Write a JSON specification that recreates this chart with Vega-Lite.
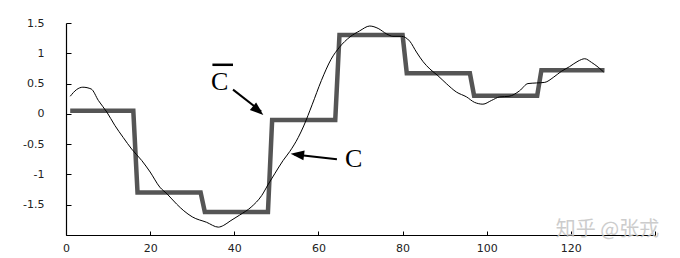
{
  "$schema": "https://vega.github.io/schema/vega-lite/v6.json",
  "autosize": "none",
  "width": 589,
  "height": 212,
  "padding": {"left": 66, "top": 23, "right": 25, "bottom": 23},
  "background": "white",
  "config": {"view": {"stroke": null}},
  "datasets": {
    "approx": [
      {"x": 1, "y": 0.05}, {"x": 16, "y": 0.05}, {"x": 17, "y": -1.3},
      {"x": 32, "y": -1.3}, {"x": 33, "y": -1.62}, {"x": 48, "y": -1.62},
      {"x": 49, "y": -0.1}, {"x": 64, "y": -0.1}, {"x": 65, "y": 1.3},
      {"x": 80, "y": 1.3}, {"x": 81, "y": 0.67}, {"x": 96, "y": 0.67},
      {"x": 97, "y": 0.3}, {"x": 112, "y": 0.3}, {"x": 113, "y": 0.72},
      {"x": 128, "y": 0.72}
    ],
    "curve": [
      {"x": 1, "y": 0.29}, {"x": 2.5, "y": 0.4}, {"x": 4, "y": 0.44},
      {"x": 6, "y": 0.41}, {"x": 7.7, "y": 0.22}, {"x": 9.7, "y": 0.03},
      {"x": 11.6, "y": -0.19}, {"x": 13.6, "y": -0.39}, {"x": 15.6, "y": -0.58},
      {"x": 18, "y": -0.77}, {"x": 20, "y": -0.96}, {"x": 22.3, "y": -1.21},
      {"x": 24, "y": -1.32}, {"x": 26.3, "y": -1.49}, {"x": 28, "y": -1.6},
      {"x": 30, "y": -1.7}, {"x": 33.4, "y": -1.79}, {"x": 36.2, "y": -1.87},
      {"x": 37.5, "y": -1.84}, {"x": 39, "y": -1.77}, {"x": 41.3, "y": -1.67},
      {"x": 44, "y": -1.54}, {"x": 46.5, "y": -1.35}, {"x": 48.1, "y": -1.16},
      {"x": 49.6, "y": -0.99}, {"x": 51.6, "y": -0.77}, {"x": 53.2, "y": -0.62},
      {"x": 55.2, "y": -0.39}, {"x": 56.5, "y": -0.2}, {"x": 58.5, "y": 0.15},
      {"x": 60.7, "y": 0.55}, {"x": 63, "y": 0.9}, {"x": 65, "y": 1.1},
      {"x": 67.5, "y": 1.27}, {"x": 69.8, "y": 1.37}, {"x": 72.2, "y": 1.45},
      {"x": 74.2, "y": 1.41}, {"x": 76.2, "y": 1.32}, {"x": 77.7, "y": 1.28},
      {"x": 79.7, "y": 1.28}, {"x": 81.7, "y": 1.2}, {"x": 83.3, "y": 1.02},
      {"x": 84.9, "y": 0.86}, {"x": 86.5, "y": 0.74}, {"x": 88.4, "y": 0.63},
      {"x": 90.4, "y": 0.5}, {"x": 92.8, "y": 0.36}, {"x": 95.2, "y": 0.28},
      {"x": 97.1, "y": 0.19}, {"x": 99.1, "y": 0.16}, {"x": 101.1, "y": 0.22},
      {"x": 103.1, "y": 0.28}, {"x": 105.3, "y": 0.29}, {"x": 107.8, "y": 0.38},
      {"x": 109.8, "y": 0.5}, {"x": 111.8, "y": 0.51}, {"x": 113.8, "y": 0.52},
      {"x": 115.8, "y": 0.6}, {"x": 117.7, "y": 0.7}, {"x": 119.7, "y": 0.78},
      {"x": 121.7, "y": 0.87}, {"x": 123.3, "y": 0.91}, {"x": 124.9, "y": 0.85},
      {"x": 126.5, "y": 0.77}, {"x": 127.8, "y": 0.69}
    ],
    "arrows": [
      {"x1": 39.7, "y1": 0.4, "x2": 46.4, "y2": 0.04},
      {"x1": 64.4, "y1": -0.75, "x2": 54.3, "y2": -0.67}
    ],
    "heads": [
      {"x": 46.9, "y": -0.017, "angle": 130},
      {"x": 53.4, "y": -0.66, "angle": 277}
    ],
    "labels": [
      {"x": 36.5, "y": 0.53, "text": "C"},
      {"x": 68.4, "y": -0.75, "text": "C"}
    ],
    "overline": [
      {"x1": 34.8, "x2": 39.7, "y": 0.81}
    ],
    "mark": [
      {"x": 128.7, "y": -1.91, "text": "知乎 @张戎"}
    ]
  },
  "layer": [
    {
      "data": {"name": "approx"},
      "mark": {"type": "line", "color": "#555555", "strokeWidth": 4.5, "strokeJoin": "miter", "clip": false},
      "encoding": {
        "x": {
          "field": "x", "type": "quantitative",
          "scale": {"domain": [0, 140], "nice": false, "zero": false},
          "axis": {
            "title": null, "grid": false, "values": [0, 20, 40, 60, 80, 100, 120, 140],
            "tickCount": 20,
            "labelExpr": "datum.value == 140 ? '' : toString(datum.value)",
            "labelOverlap": false, "labelFlush": false,
            "domainColor": "#000000", "domainWidth": 1.2,
            "tickColor": "#000000", "tickSize": -4, "tickWidth": 1,
            "labelPadding": 11, "labelFont": "DejaVu Sans", "labelFontSize": 11,
            "labelColor": "#222222"
          }
        },
        "y": {
          "field": "y", "type": "quantitative",
          "scale": {"domain": [-2, 1.5], "nice": false, "zero": false},
          "axis": {
            "title": null, "grid": false, "values": [-2, -1.5, -1, -0.5, 0, 0.5, 1, 1.5],
            "tickCount": 20,
            "labelExpr": "datum.value == -2 ? '' : toString(datum.value)",
            "labelOverlap": false, "labelFlush": false,
            "domainColor": "#000000", "domainWidth": 1.2,
            "tickColor": "#000000", "tickSize": -5, "tickWidth": 1,
            "labelPadding": 27, "labelFont": "DejaVu Sans", "labelFontSize": 11,
            "labelColor": "#222222"
          }
        }
      }
    },
    {
      "data": {"name": "curve"},
      "mark": {"type": "line", "color": "#000000", "strokeWidth": 1, "interpolate": "monotone"},
      "encoding": {
        "x": {"field": "x", "type": "quantitative"},
        "y": {"field": "y", "type": "quantitative"}
      }
    },
    {
      "data": {"name": "arrows"},
      "mark": {"type": "rule", "color": "#000000", "strokeWidth": 2},
      "encoding": {
        "x": {"field": "x1", "type": "quantitative"},
        "y": {"field": "y1", "type": "quantitative"},
        "x2": {"field": "x2"},
        "y2": {"field": "y2"}
      }
    },
    {
      "data": {"name": "heads"},
      "mark": {"type": "point", "filled": true, "color": "#000000", "opacity": 1, "size": 150, "shape": "M0,0L-0.8,2.2L0.8,2.2Z"},
      "encoding": {
        "x": {"field": "x", "type": "quantitative"},
        "y": {"field": "y", "type": "quantitative"},
        "angle": {"field": "angle", "type": "quantitative", "scale": null}
      }
    },
    {
      "data": {"name": "labels"},
      "mark": {"type": "text", "font": "Liberation Serif", "fontSize": 26, "color": "#000000", "align": "center", "baseline": "middle"},
      "encoding": {
        "x": {"field": "x", "type": "quantitative"},
        "y": {"field": "y", "type": "quantitative"},
        "text": {"field": "text"}
      }
    },
    {
      "data": {"name": "overline"},
      "mark": {"type": "rule", "color": "#000000", "strokeWidth": 2.5},
      "encoding": {
        "x": {"field": "x1", "type": "quantitative"},
        "x2": {"field": "x2"},
        "y": {"field": "y", "type": "quantitative"}
      }
    },
    {
      "data": {"name": "mark"},
      "mark": {"type": "text", "font": "Noto Sans CJK SC", "fontSize": 20, "color": "#c4c4c4", "opacity": 0.85, "align": "center", "baseline": "middle"},
      "encoding": {
        "x": {"field": "x", "type": "quantitative"},
        "y": {"field": "y", "type": "quantitative"},
        "text": {"field": "text"}
      }
    }
  ]
}
